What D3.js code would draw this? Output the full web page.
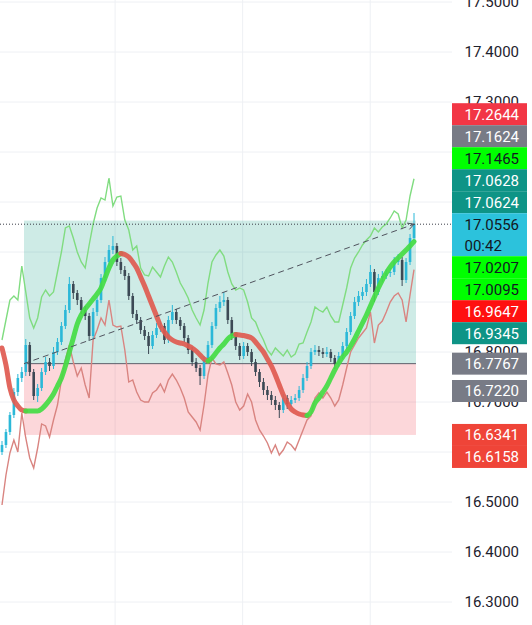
<!DOCTYPE html>
<html>
<head>
<meta charset="utf-8">
<script src="https://cdn.jsdelivr.net/npm/d3@7"></script>
<style>
  body { margin: 0; background: #fff; }
  svg { display: block; font-family: Roboto, "Noto Sans", sans-serif; }
</style>
</head>
<body>
<div id="chart"></div>
<script>
// candle data, one bar per slot (opens follow the previous close)
const firstOpen = 16.600;
const closes = [16.614,16.640,16.674,16.720,16.748,16.760,16.814,16.760,16.712,16.728,
  16.760,16.780,16.772,16.800,16.820,16.852,16.884,16.936,16.918,16.904,
  16.884,16.872,16.832,16.880,16.904,16.948,16.980,17.004,17.012,16.980,
  16.964,16.952,16.912,16.876,16.864,16.844,16.832,16.812,16.834,16.848,
  16.852,16.824,16.864,16.880,16.864,16.852,16.828,16.804,16.780,16.768,
  16.752,16.784,16.814,16.852,16.888,16.900,16.904,16.864,16.832,16.812,
  16.792,16.812,16.800,16.780,16.760,16.740,16.724,16.714,16.704,16.694,
  16.684,16.708,16.696,16.704,16.708,16.724,16.748,16.772,16.800,16.804,
  16.800,16.796,16.800,16.788,16.776,16.792,16.812,16.840,16.872,16.900,
  16.912,16.920,16.936,16.960,16.920,16.948,16.952,16.958,16.960,16.980,
  16.984,16.944,16.980,17.028,17.0556];
const highs = [16.622,16.646,16.680,16.728,16.756,16.770,16.826,16.820,16.766,16.736,
  16.768,16.790,16.788,16.810,16.828,16.860,16.894,16.950,16.942,16.924,
  16.910,16.892,16.878,16.888,16.912,16.956,16.990,17.014,17.032,17.018,
  16.988,16.972,16.958,16.918,16.884,16.870,16.852,16.840,16.842,16.858,
  16.862,16.858,16.872,16.894,16.886,16.870,16.858,16.834,16.810,16.788,
  16.774,16.792,16.822,16.860,16.896,16.912,16.920,16.910,16.870,16.838,
  16.818,16.820,16.818,16.806,16.786,16.766,16.748,16.732,16.722,16.712,
  16.700,16.716,16.714,16.712,16.716,16.732,16.756,16.780,16.808,16.814,
  16.812,16.808,16.810,16.806,16.794,16.800,16.820,16.848,16.880,16.910,
  16.922,16.930,16.946,16.974,16.966,16.956,16.962,16.966,16.968,16.990,
  16.996,16.990,16.988,17.036,17.078];
const lows = [16.594,16.608,16.634,16.668,16.712,16.740,16.752,16.752,16.704,16.700,
  16.722,16.754,16.762,16.766,16.794,16.814,16.846,16.878,16.906,16.894,
  16.876,16.864,16.822,16.826,16.872,16.898,16.940,16.972,16.996,16.972,
  16.956,16.944,16.904,16.868,16.856,16.836,16.824,16.796,16.806,16.828,
  16.840,16.816,16.818,16.856,16.856,16.844,16.820,16.796,16.772,16.760,
  16.734,16.746,16.778,16.808,16.846,16.880,16.892,16.856,16.824,16.804,
  16.784,16.786,16.792,16.772,16.752,16.730,16.714,16.704,16.694,16.684,
  16.668,16.678,16.686,16.690,16.698,16.702,16.718,16.742,16.766,16.794,
  16.792,16.788,16.790,16.780,16.766,16.770,16.786,16.806,16.834,16.866,
  16.892,16.904,16.912,16.930,16.900,16.914,16.940,16.946,16.950,16.954,
  16.974,16.932,16.938,16.974,17.022];

// smoothed average and its two envelope lines
const maLine = [16.808,16.774,16.728,16.704,16.692,16.684,16.682,16.682,16.682,16.682,
  16.686,16.694,16.704,16.716,16.732,16.748,16.772,16.800,16.828,16.856,
  16.874,16.886,16.896,16.906,16.916,16.928,16.948,16.968,16.984,16.992,
  16.997,16.995,16.990,16.980,16.968,16.950,16.932,16.912,16.892,16.872,
  16.852,16.840,16.830,16.824,16.820,16.818,16.816,16.812,16.808,16.802,
  16.794,16.786,16.782,16.788,16.798,16.808,16.816,16.826,16.832,16.835,
  16.834,16.833,16.831,16.828,16.820,16.810,16.800,16.786,16.772,16.754,
  16.734,16.714,16.698,16.686,16.680,16.676,16.674,16.673,16.680,16.698,
  16.708,16.720,16.732,16.748,16.764,16.778,16.790,16.800,16.812,16.826,
  16.842,16.858,16.874,16.892,16.910,16.928,16.944,16.958,16.970,16.980,
  16.988,16.996,17.004,17.012,17.0207];
const upperBand = [16.824,16.864,16.904,16.912,16.904,16.972,16.920,16.868,16.848,16.868,
  16.910,16.924,16.912,16.920,16.960,17.000,17.048,17.052,17.028,17.000,
  16.980,16.968,17.014,17.056,17.088,17.108,17.104,17.148,17.092,17.110,
  17.112,17.064,17.044,17.004,17.012,16.968,16.954,16.952,16.970,16.960,
  16.950,16.972,16.990,16.980,16.960,16.938,16.924,16.908,16.884,16.868,
  16.854,16.884,16.938,16.980,16.994,17.004,16.992,16.960,16.936,16.924,
  16.928,16.924,16.900,16.868,16.860,16.840,16.824,16.804,16.794,16.808,
  16.800,16.792,16.804,16.790,16.796,16.816,16.818,16.840,16.860,16.890,
  16.884,16.880,16.890,16.872,16.860,16.860,16.894,16.928,16.968,16.988,
  17.000,17.014,17.024,17.032,17.048,17.040,17.050,17.056,17.068,17.082,
  17.076,17.048,17.064,17.112,17.1465];
const lowerBand = [16.494,16.554,16.598,16.624,16.600,16.678,16.628,16.588,16.568,16.608,
  16.656,16.652,16.630,16.664,16.694,16.744,16.784,16.814,16.780,16.752,
  16.768,16.734,16.708,16.824,16.844,16.868,16.854,16.904,16.854,16.850,
  16.852,16.804,16.740,16.744,16.720,16.704,16.700,16.700,16.718,16.724,
  16.736,16.720,16.744,16.756,16.744,16.728,16.708,16.680,16.670,16.660,
  16.644,16.694,16.754,16.788,16.776,16.774,16.780,16.758,16.734,16.700,
  16.684,16.692,16.716,16.700,16.664,16.644,16.632,16.618,16.598,16.614,
  16.594,16.604,16.620,16.614,16.604,16.624,16.644,16.664,16.672,16.708,
  16.718,16.708,16.720,16.708,16.692,16.704,16.734,16.768,16.800,16.814,
  16.828,16.838,16.848,16.880,16.818,16.854,16.862,16.880,16.900,16.912,
  16.918,16.904,16.860,16.914,16.9647];

// long position tool
const posStartBar = 5.55;
const posEndBar = 104.5;
const entryPrice = 16.7767;
const targetPrice = 17.0628;
const stopPrice = 16.6341;
const lastPrice = 17.0556;
const timeLeft = "00:42";

// axis
const priceTicks = [17.5, 17.4, 17.3, 17.2, 17.1, 17.0, 16.9, 16.8, 16.7, 16.6, 16.5, 16.4, 16.3];
const timeGridBars = [28.55, 60.75, 92.95];

// price scale tags
const tagPrices = [17.2644, 17.1624, 17.1465, 17.0628, 17.0624, 17.0556, 17.0207, 17.0095, 16.9647, 16.9345, 16.7767, 16.7220, 16.6341, 16.6158];
const tagFills = ["#f23645", "#787b86", "#00ff00", "#0e9486", "#0e9486", "#2cc2dc", "#00ff00", "#00ff00", "#ff1010", "#0e9486", "#787b86", "#787b86", "#ef4438", "#ef4438"];
const tagInk = ["#fff", "#fff", "#131722", "#fff", "#fff", "#131722", "#131722", "#131722", "#fff", "#fff", "#fff", "#fff", "#fff", "#fff"];
const cursorTag = 5;

const W = 532, H = 625, paneW = 452;

const svg = d3.select('#chart').append('svg')
  .attr('width', W)
  .attr('height', H);

const x = d3.scaleLinear().domain([0, closes.length - 1]).range([2, 414]);
const y = d3.scaleLinear().domain([16.3, 17.5]).range([602, 2]);

svg.append('defs').append('clipPath').attr('id', 'pane')
  .append('rect').attr('width', paneW).attr('height', H);

const pane = svg.append('g').attr('clip-path', 'url(#pane)');

// grid
pane.selectAll('.hgrid').data(priceTicks).enter().append('line')
  .attr('x1', 0).attr('x2', paneW)
  .attr('y1', d => y(d)).attr('y2', d => y(d))
  .attr('stroke', '#eef0f4').attr('stroke-width', 1);
pane.selectAll('.vgrid').data(timeGridBars).enter().append('line')
  .attr('x1', d => x(d)).attr('x2', d => x(d))
  .attr('y1', 0).attr('y2', H)
  .attr('stroke', '#eef0f4').attr('stroke-width', 1);

// position boxes
pane.append('rect')
  .attr('x', x(posStartBar)).attr('width', x(posEndBar) - x(posStartBar))
  .attr('y', y(targetPrice)).attr('height', y(entryPrice) - y(targetPrice))
  .attr('fill', 'rgba(8,153,129,0.2)');
pane.append('rect')
  .attr('x', x(posStartBar)).attr('width', x(posEndBar) - x(posStartBar))
  .attr('y', y(entryPrice)).attr('height', y(stopPrice) - y(entryPrice))
  .attr('fill', 'rgba(242,54,69,0.2)');
pane.append('line')
  .attr('x1', x(posStartBar)).attr('x2', x(posEndBar))
  .attr('y1', y(entryPrice)).attr('y2', y(entryPrice))
  .attr('stroke', '#5d606b').attr('stroke-width', 1);

// envelope lines
const bandLine = d3.line().x((d, i) => x(i)).y(d => y(d));
pane.append('path').datum(upperBand)
  .attr('d', bandLine).attr('fill', 'none')
  .attr('stroke', '#80dc80').attr('stroke-width', 1.4);
pane.append('path').datum(lowerBand)
  .attr('d', bandLine).attr('fill', 'none')
  .attr('stroke', '#d98480').attr('stroke-width', 1.4);

// candles
const opens = closes.map((c, i) => i === 0 ? firstOpen : closes[i - 1]);
const bars = closes.map((c, i) => ({ i: i, o: opens[i], h: highs[i], l: lows[i], c: c }));
const upCol = '#2bb8d8', downCol = '#3c4955';
const candle = pane.selectAll('.candle').data(bars).enter().append('g');
candle.append('line')
  .attr('x1', d => x(d.i)).attr('x2', d => x(d.i))
  .attr('y1', d => y(d.h)).attr('y2', d => y(d.l))
  .attr('stroke', d => d.c >= d.o ? upCol : downCol).attr('stroke-width', 1);
candle.append('rect')
  .attr('x', d => x(d.i) - 1.3).attr('width', 2.6)
  .attr('y', d => y(Math.max(d.o, d.c)))
  .attr('height', d => Math.max(1, Math.abs(y(d.o) - y(d.c))))
  .attr('fill', d => d.c >= d.o ? upCol : downCol);

// smoothed average, green while rising and red while falling
const runs = [];
for (let i = 1; i < maLine.length; i++) {
  const up = maLine[i] >= maLine[i - 1];
  const last = runs[runs.length - 1];
  if (last && last.up === up) last.pts.push(i);
  else runs.push({ up: up, pts: [i - 1, i] });
}
const maPath = d3.line().x(i => x(i)).y(i => y(maLine[i])).curve(d3.curveMonotoneX);
pane.selectAll('.ma').data(runs).enter().append('path')
  .attr('d', d => maPath(d.pts))
  .attr('fill', 'none')
  .attr('stroke', d => d.up ? '#44dc44' : '#e05a50')
  .attr('stroke-width', 5)
  .attr('stroke-linecap', 'round')
  .attr('stroke-opacity', 0.92);

// dashed link from entry to last price
const lastBar = closes.length - 1;
pane.append('line')
  .attr('x1', x(posStartBar)).attr('y1', y(entryPrice))
  .attr('x2', x(lastBar)).attr('y2', y(lastPrice))
  .attr('stroke', '#50535e').attr('stroke-width', 1)
  .attr('stroke-dasharray', '6,4');
const ang = Math.atan2(y(lastPrice) - y(entryPrice), x(lastBar) - x(posStartBar));
const ax = x(lastBar), ay = y(lastPrice);
pane.append('path')
  .attr('d', `M${ax - 7 * Math.cos(ang - 0.5)},${ay - 7 * Math.sin(ang - 0.5)}L${ax},${ay}L${ax - 7 * Math.cos(ang + 0.5)},${ay - 7 * Math.sin(ang + 0.5)}`)
  .attr('fill', 'none').attr('stroke', '#50535e').attr('stroke-width', 1);

// last price dotted line
svg.append('line')
  .attr('x1', 0).attr('x2', paneW)
  .attr('y1', y(lastPrice)).attr('y2', y(lastPrice))
  .attr('stroke', '#3a3d48').attr('stroke-width', 1)
  .attr('stroke-dasharray', '1,2');

// tags: cursor stays put, the rest stack away from it
const tagH = 22;
const tops = tagPrices.map(p => y(p) - tagH / 2);
const heights = tagPrices.map((p, i) => i === cursorTag ? tagH * 2 - 1 : tagH);
let lim = tops[cursorTag];
for (let i = cursorTag - 1; i >= 0; i--) {
  tops[i] = Math.min(tops[i], lim - tagH);
  lim = tops[i];
}
lim = tops[cursorTag] + heights[cursorTag];
for (let i = cursorTag + 1; i < tagPrices.length; i++) {
  tops[i] = Math.max(tops[i], lim);
  lim = tops[i] + tagH;
}

// price axis labels; the ones fully under the tag stacks are not drawn
const covered = (a, b) => tops.some((t, i) => a >= t && b <= t + heights[i] + 0.5)
  || (a >= tops[0] && b <= tops[9] + tagH)
  || (a >= tops[12] && b <= tops[13] + tagH);
svg.selectAll('.tick').data(priceTicks.filter(d => !covered(y(d) - 6, y(d) + 6))).enter().append('text')
  .attr('x', 464.5).attr('y', d => y(d))
  .attr('dy', '0.36em')
  .attr('font-size', 15)
  .attr('fill', '#1e222d')
  .text(d => d.toFixed(4));

const tag = svg.selectAll('.tag').data(tagPrices).enter().append('g');
tag.append('rect')
  .attr('x', 452).attr('width', 75)
  .attr('y', (d, i) => tops[i]).attr('height', (d, i) => heights[i])
  .attr('fill', (d, i) => tagFills[i]);
tag.append('text')
  .attr('x', 464.5).attr('y', (d, i) => tops[i] + tagH / 2)
  .attr('dy', '0.36em')
  .attr('font-size', 15)
  .attr('fill', (d, i) => tagInk[i])
  .text(d => d.toFixed(4));
svg.append('text')
  .attr('x', 464.5).attr('y', tops[cursorTag] + tagH / 2 + 21)
  .attr('dy', '0.36em')
  .attr('font-size', 15)
  .attr('fill', tagInk[cursorTag])
  .text(timeLeft);
</script>
</body>
</html>
